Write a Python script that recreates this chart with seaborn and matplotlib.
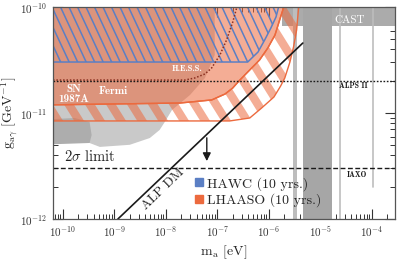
import numpy as np
import pandas as pd
import seaborn as sns
import matplotlib.pyplot as plt
from matplotlib.patches import Polygon
from matplotlib.lines import Line2D
from matplotlib.ticker import LogLocator, NullFormatter

# ---- data (log10 of m_a [eV] and g [GeV^-1]) ----
# LHAASO solid region, lower/right boundary
lhaaso_logm = [-10.5, -7.73, -7.11, -6.85, -6.70, -6.58, -6.37, -6.18, -6.02, -5.88, -5.79, -5.71, -5.69]
lhaaso_logg = [-10.925, -10.906, -10.877, -10.821, -10.764, -10.698, -10.594, -10.50, -10.387, -10.264, -10.123, -10.0, -9.9]
# LHAASO hatched band, outer boundary
band_logm = [-10.5, -6.76, -6.37, -6.14, -5.90, -5.77, -5.69, -5.59, -5.52, -5.46, -5.42, -5.41]
band_logg = [-11.075, -11.075, -11.047, -10.953, -10.849, -10.745, -10.67, -10.519, -10.377, -10.217, -10.0, -9.9]
# HAWC region
hawc_logm = [-10.5, -6.41, -6.21, -6.08, -5.96, -5.86, -5.81, -5.79]
hawc_logg = [-10.519, -10.519, -10.425, -10.311, -10.198, -10.094, -10.0, -9.9]
# H.E.S.S. limit (dotted)
hess_logm = [-10.19, -7.63, -7.44, -7.24, -7.11, -6.95, -6.82, -6.70, -6.62]
hess_logg = [-10.689, -10.689, -10.67, -10.632, -10.575, -10.453, -10.311, -10.142, -10.0]
# Fermi / SN1987A grey region
fermi_logm = [-10.5, -7.05, -7.05, -7.24, -7.53, -7.88, -8.02, -8.12, -8.31, -8.70, -9.28, -9.48, -10.5]
fermi_logg = [-9.9, -9.9, -10.453, -10.67, -10.83, -10.972, -11.085, -11.16, -11.236, -11.30, -11.32, -11.283, -11.283]
# darker grey patch
dark_logm = [-10.5, -9.77, -9.48, -9.44, -9.48, -10.5]
dark_logg = [-11.066, -11.047, -11.085, -11.208, -11.283, -11.30]
# haloscope / helioscope bands
band_light = (-5.53, -5.46)
band_dark = (-5.34, -4.78)
line1_logm, line2_logm, line2_logg_min = -4.62, -3.98, -11.70
cast_logm_min, cast_logg = -5.75, -10.18
alps_g = 2.0e-11
iaxo_g = 3.0e-12
# ALP dark matter line
alpdm_m = [10**-8.93, 10**-5.34]
alpdm_g = [1e-12, 10**-10.34]
xticks = [1e-10, 1e-9, 1e-8, 1e-7, 1e-6, 1e-5, 1e-4]
yticks = [1e-12, 1e-11, 1e-10]

orange = '#ec6a3e'
blue = '#5b7fc4'

sns.set_theme(style='ticks')
plt.rcParams['font.family'] = 'serif'
plt.rcParams['font.serif'] = ['cmr10']
plt.rcParams['mathtext.fontset'] = 'cm'
plt.rcParams['axes.formatter.use_mathtext'] = True

fig = plt.figure(figsize=(3.99, 2.60), dpi=100)
ax = fig.add_axes([53/399, 1-219/260, 342/399, 212/260])
ax.set_xscale('log')
ax.set_yscale('log')
xlo, xhi = -10.19, -3.55
ax.set_xlim(10**xlo, 10**xhi)
ax.set_ylim(1e-12, 1e-10)

def poly(logm, logg, **kw):
    p = Polygon(np.column_stack([10**np.array(logm), 10**np.array(logg)]), closed=True, **kw)
    ax.add_patch(p)
    return p

# grey backgrounds
poly(fermi_logm, fermi_logg, facecolor='#c9c9c9', edgecolor='none', zorder=1)
poly(dark_logm, dark_logg, facecolor='#adadad', edgecolor='none', zorder=1.1)
ax.axhspan(10**cast_logg, 10**-9.9, xmin=(cast_logm_min - xlo)/(xhi - xlo), xmax=1,
           color='#ababab', lw=0, zorder=1)
ax.axvspan(10**band_light[0], 10**band_light[1], color='#bdbdbd', lw=0, zorder=1.2)
ax.axvspan(10**band_dark[0], 10**band_dark[1], color='#a6a6a6', lw=0, zorder=1.2)
ax.axvline(10**line1_logm, color='#bdbdbd', lw=1.2, zorder=1.2)
ax.plot([10**line2_logm]*2, [10**line2_logg_min, 1e-10], color='#bdbdbd', lw=1.2, zorder=1.2)

# LHAASO hatched band (outer curve + inner curve reversed)
band_poly_m = band_logm + lhaaso_logm[::-1]
band_poly_g = band_logg + lhaaso_logg[::-1]
bp = poly(band_poly_m, band_poly_g, facecolor='none', edgecolor=orange, lw=1.0, zorder=2.2)

def stripes(clip, spacing_px, angle_deg, color, lw, alpha, z):
    w, h = 342.0, 212.0
    dx = (h / np.tan(np.radians(angle_deg))) / w
    for c in np.arange(-0.5, 1.5, spacing_px / w):
        l, = ax.plot([c, c + dx], [1, 0], transform=ax.transAxes, color=color,
                     lw=lw, alpha=alpha, solid_capstyle='butt', zorder=z)
        l.set_clip_path(clip)

stripes(bp, 21, 58, orange, 6.0, 0.55, 2.1)

# LHAASO solid region
poly(lhaaso_logm + [-10.5], lhaaso_logg + [-9.9], facecolor=orange, alpha=0.55,
     edgecolor='none', zorder=2.3)
poly(lhaaso_logm + [-10.5], lhaaso_logg + [-9.9], facecolor='none',
     edgecolor=orange, lw=1.0, zorder=2.4)

# HAWC hatched region
hp = poly(hawc_logm + [-10.5], hawc_logg + [-9.9], facecolor='none', edgecolor=blue, lw=1.1, zorder=3)
stripes(hp, 8.5, 65, blue, 1.1, 1.0, 2.9)

# lines
sns.lineplot(x=10**np.array(hess_logm), y=10**np.array(hess_logg), ax=ax, color='#8b3020',
             lw=1.1, linestyle=(0, (1, 1.2)), zorder=4)
ax.axhline(alps_g, color='k', lw=1.0, linestyle=(0, (1.2, 1.2)), zorder=4)
ax.axhline(iaxo_g, color='k', lw=1.0, linestyle=(0, (3.5, 1.8)), zorder=4)
sns.lineplot(x=alpdm_m, y=alpdm_g, ax=ax, color='k', lw=1.2, zorder=4)
ax.annotate('', xy=(10**-7.204, 10**-11.48), xytext=(10**-7.204, 10**-11.208),
            arrowprops=dict(arrowstyle='-|>', color='k', lw=1.0, mutation_scale=12), zorder=5)

# labels
bold = dict(family='cmb10', color='white', ha='center', va='center', zorder=6)
ax.text(10**-9.786, 10**-10.82, 'SN\n1987A', fontsize=8, linespacing=0.95, **bold)
ax.text(10**-9.01, 10**-10.79, 'Fermi', fontsize=8, **bold)
ax.text(10**-7.592, 10**-10.585, 'H.E.S.S.', fontsize=6, **bold)
ax.text(10**-4.427, 10**-10.123, 'CAST', fontsize=8, color='white', ha='center', va='center', zorder=6)
ax.text(10**-4.369, 10**-10.745, 'ALPS II', fontsize=5.5, family='cmb10', color='k', ha='center', va='center', zorder=6)
ax.text(10**-4.29, 10**-11.585, 'IAXO', fontsize=5.5, family='cmb10', color='k', ha='center', va='center', zorder=6)
ax.text(10**-9.476, 10**-11.41, r'$2\sigma$ limit', fontsize=10.5, ha='center', va='center', color='#222222', zorder=6)
ax.text(10**-8.06, 10**-11.72, 'ALP DM', fontsize=9.5, rotation=44, ha='center', va='center',
        rotation_mode='anchor', color='#222222', zorder=6)

handles = [Line2D([], [], marker='s', linestyle='', color=blue, markersize=6),
           Line2D([], [], marker='s', linestyle='', color=orange, markersize=6)]
ax.legend(handles, ['HAWC (10 yrs.)', 'LHAASO (10 yrs.)'], loc='lower left',
          bbox_to_anchor=(0.39, 0.03), frameon=False, fontsize=10, handletextpad=0.1,
          handlelength=1.0, labelspacing=0.2, borderaxespad=0)

ax.set_xlabel(r'$\mathrm{m_a}$ [eV]', fontsize=10, labelpad=3)
ax.set_ylabel(r'$\mathrm{g_{a\gamma}}$ [GeV$^{-1}$]', fontsize=10, labelpad=1)

ax.set_xticks(xticks)
ax.set_yticks(yticks)
for axis in (ax.xaxis, ax.yaxis):
    axis.set_minor_locator(LogLocator(base=10, subs=np.arange(2, 10), numticks=100))
    axis.set_minor_formatter(NullFormatter())
ax.tick_params(which='both', direction='in', top=True, right=True, colors='#333333', labelsize=8, pad=4)
ax.tick_params(which='major', length=7, width=0.8)
ax.tick_params(which='minor', length=3.5, width=0.7)
for s in ax.spines.values():
    s.set_color('#555555')
    s.set_linewidth(0.9)
    s.set_zorder(7)

fig.savefig('out.png', dpi=100)
